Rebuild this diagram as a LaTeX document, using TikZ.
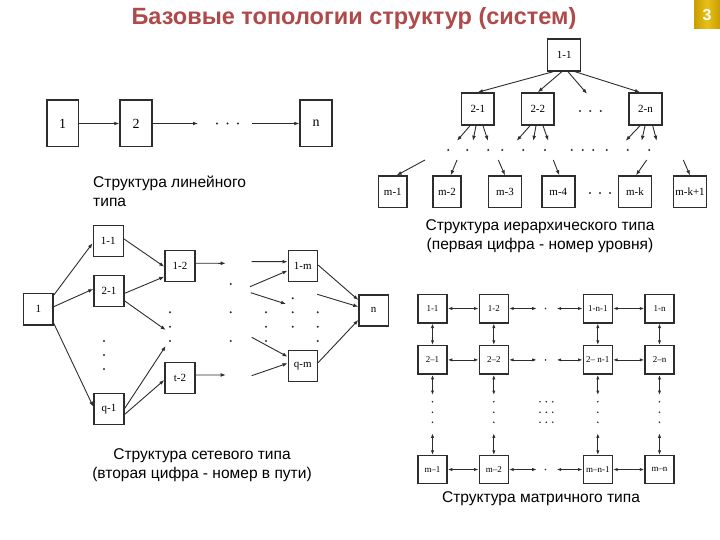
\documentclass[tikz,border=0pt]{standalone}
\usepackage{fontspec}
\setmainfont{Liberation Serif}
\newfontfamily\capfont{Liberation Sans}
\usetikzlibrary{arrows.meta}
\definecolor{titlered}{RGB}{176,74,74}
\definecolor{ln}{RGB}{45,45,45}
\definecolor{gold1}{RGB}{200,158,0}
\definecolor{gold2}{RGB}{232,192,24}
\begin{document}
\begin{tikzpicture}[x=1bp,y=-1bp,
  box/.style={draw=ln, line width=1.5bp, inner sep=0pt, fill=white},
  lbox/.style={box, minimum width=32bp, minimum height=46.5bp, font=\fontsize{14}{14}\selectfont},
  hbox/.style={box, minimum width=33bp, minimum height=32bp, font=\fontsize{11}{11}\selectfont},
  nbox/.style={box, minimum width=30bp, minimum height=31bp, font=\fontsize{11}{11}\selectfont},
  mbox/.style={box, minimum width=29bp, minimum height=28.5bp, font=\fontsize{9}{9}\selectfont},
  arr/.style={draw=ln, line width=0.9bp, -{Latex[length=5bp,width=3.8bp]}},
  darr/.style={draw=ln, line width=0.8bp, {Latex[length=4.5bp,width=3.2bp]}-{Latex[length=4.5bp,width=3.2bp]}},
  captxt/.style={font=\capfont\fontsize{15.6}{18.7}\selectfont, text=black, inner sep=0pt},
 ]
\useasboundingbox (0,0) rectangle (720,540);
\fill[white] (0,0) rectangle (720,540);

% title and badge
\node[font=\capfont\bfseries\fontsize{23.6}{26}\selectfont, text=titlered] (title) at (354,18) {Базовые топологии структур (систем)};
\shade[left color=gold1, right color=gold1, middle color=gold2] (694,1) rectangle (720,29);
\node[font=\capfont\bfseries\fontsize{16}{16}\selectfont, text=white] (badge) at (707,15) {3};

% ---------- linear ----------
\node[lbox, minimum width=31.5bp] (L1) at (62.5,123.5) {1};
\node[lbox] (L2) at (136,123.5) {2};
\node[lbox] (Ln) at (316,123.5) {n};
\coordinate (la) at (198,123.5);
\coordinate (lb) at (252,123.5);
\draw[arr] (L1) -- (L2);
\draw[arr] (L2) -- (la);
\draw[arr] (lb) -- (Ln);
\foreach \x in {217,227.5,238} \fill[ln] (\x,123.5) circle[radius=1.1bp];
\node[captxt, anchor=north west, align=left] (lincap) at (93,176) {Структура линейного\\типа};

% ---------- hierarchy ----------
\node[hbox] (H11) at (564.2,55) {1-1};
\node[hbox, minimum width=32.3bp] (H21) at (477.8,109) {2-1};
\node[hbox, minimum width=32.3bp] (H22) at (537.8,109) {2-2};
\node[hbox] (H2n) at (645.5,109) {2-n};
\foreach \x in {580,590.3,600.7} \fill[ln] (\x,111) circle[radius=1.1bp];
\draw[arr] ([xshift=-11.2bp]H11.south) -- (H21.north);
\draw[arr] ([xshift=-2.5bp]H11.south) -- (H22.north);
\draw[arr] ([xshift=3.8bp]H11.south) -- ++(19,22);
\draw[arr] ([xshift=11bp]H11.south) -- ([xshift=-5.5bp]H2n.north);
\draw[arr] ([xshift=-7.8bp]H21.south) -- ++(-13,15);
\draw[arr] ([xshift=-1.8bp]H21.south) -- ++(-3,15);
\draw[arr] ([xshift=5.2bp]H21.south) -- ++(5,15);
\draw[arr] ([xshift=-7.8bp]H22.south) -- ++(-13.3,15);
\draw[arr] ([xshift=-1.8bp]H22.south) -- ++(-2.7,15);
\draw[arr] ([xshift=5.2bp]H22.south) -- ++(5.3,15);
\draw[arr] ([xshift=-5.5bp]H2n.south) -- ++(-14.3,15);
\draw[arr] ([xshift=-0.5bp]H2n.south) -- ++(-3.3,15);
\draw[arr] ([xshift=7.2bp]H2n.south) -- ++(4,15);
\foreach \x in {448.3,467.3,488.3,502.3,523.3,545,571.7,582.7,593.3,606.7,627.7,649.3} \fill[ln] (\x,150) circle[radius=1.1bp];
\node[hbox, minimum width=28.5bp, minimum height=31.3bp] (M1) at (392.8,191.7) {m-1};
\node[hbox, minimum width=28bp, minimum height=31.3bp] (M2) at (447,191.7) {m-2};
\node[hbox, minimum height=31.3bp] (M3) at (505,191.7) {m-3};
\node[hbox, minimum height=31.3bp] (M4) at (558.3,191.7) {m-4};
\node[hbox, minimum height=31.3bp] (Mk) at (635,191.7) {m-k};
\node[hbox, minimum height=31.3bp] (Mk1) at (690,191.7) {m-k+1};
\foreach \x in {590,600,610} \fill[ln] (\x,193) circle[radius=1.1bp];
\coordinate (h1) at (425,160);
\coordinate (h2) at (457,160);
\coordinate (h3) at (498.3,160);
\coordinate (h4) at (553.3,160);
\coordinate (h5) at (646.7,160);
\coordinate (h6) at (683.3,160);
\draw[arr] (h1) -- ([xshift=3.9bp]M1.north);
\draw[arr] (h2) -- ([xshift=3.7bp]M2.north);
\draw[arr] (h3) -- (M3.north);
\draw[arr] (h4) -- ([xshift=1bp]M4.north);
\draw[arr] (h5) -- ([xshift=1bp]Mk.north);
\draw[arr] (h6) -- (Mk1.north);
\node[captxt, align=center] (hiercap) at (540,236) {Структура иерархического типа\\(первая цифра - номер уровня)};

% ---------- network ----------
\node[nbox, minimum width=29.3bp, minimum height=31.7bp] (N1) at (38.3,309.2) {1};
\node[nbox] (N11) at (108.3,241.2) {1-1};
\node[nbox] (N21) at (109,291.2) {2-1};
\node[nbox] (Nq1) at (109,408.8) {q-1};
\node[nbox] (N12) at (180,266.2) {1-2};
\node[nbox] (Nt2) at (180,377.8) {t-2};
\node[nbox, minimum width=29bp] (N1m) at (302.8,266.2) {1-m};
\node[nbox, minimum width=29bp] (Nqm) at (302.8,366.2) {q-m};
\node[nbox, minimum width=29.3bp] (Nn) at (373.7,310.3) {n};
\draw[arr] ([yshift=14bp]N1.east) -- ([yshift=-2bp]N11.west);
\draw[arr] ([yshift=2.5bp]N1.east) -- ([yshift=2.2bp]N21.west);
\draw[arr] ([yshift=-14bp]N1.east) -- ([yshift=2.1bp]Nq1.west);
\draw[arr] ([yshift=2.2bp]N11.east) -- ([yshift=-0.5bp]N12.west);
\draw[arr] ([yshift=-2.1bp]N21.east) -- ([yshift=-10.5bp]N12.west);
\coordinate (n1) at (165.7,330);
\coordinate (n2) at (165.7,346);
\draw[arr] ([yshift=-9.8bp]N21.east) -- (n1);
\draw[arr] ([yshift=0.5bp]Nq1.east) -- (n2);
\draw[arr] ([yshift=-5.5bp]Nq1.east) -- ([yshift=-2.2bp]Nt2.west);
\foreach \y in {312.3,326.7,341} \fill[ln] (170,\y) circle[radius=1.1bp];
\foreach \y in {341,355,369} \fill[ln] (104,\y) circle[radius=1.1bp];
\coordinate (n3) at (225.7,263.3);
\coordinate (n4) at (225.7,375);
\draw[arr] ([yshift=2.9bp]N12.east) -- (n3);
\draw[arr] ([yshift=2.8bp]Nt2.east) -- (n4);
\foreach \y in {284,312.3,341} \fill[ln] (230.7,\y) circle[radius=1.1bp];
\coordinate (n5) at (251.7,261.7);
\coordinate (n6) at (250,286.7);
\coordinate (n7) at (250.7,292.7);
\coordinate (n8) at (286,304);
\coordinate (n9) at (251.7,337.3);
\coordinate (n10) at (251.7,375.7);
\draw[arr] (n5) -- ([yshift=4.5bp]N1m.west);
\draw[arr] (n6) -- ([yshift=-4.5bp]N1m.west);
\draw[arr] (n7) -- (n8);
\draw[arr] (n9) -- ([yshift=9.5bp]Nqm.west);
\draw[arr] (n10) -- ([yshift=2.9bp]Nqm.west);
\foreach \y in {312.3,326.7,341} \fill[ln] (266,\y) circle[radius=1.1bp];
\foreach \y in {298.3,312.3,326.7} \fill[ln] (292.7,\y) circle[radius=1.1bp];
\foreach \y in {312.3,326.7,341} \fill[ln] (317.7,\y) circle[radius=1.1bp];
\coordinate (n11) at (317.3,294.3);
\draw[arr] ([yshift=1.2bp]N1m.east) -- ([yshift=10.3bp]Nn.west);
\draw[arr] (n11) -- ([yshift=3.6bp]Nn.west);
\draw[arr] ([yshift=3.5bp]Nqm.east) -- ([yshift=-9.7bp]Nn.west);
\node[captxt, align=center] (netcap) at (202,465) {Структура сетевого типа\\(вторая цифра - номер в пути)};

% ---------- matrix ----------
\node[mbox] (A11) at (432.5,308.5) {1-1};
\node[mbox] (A12) at (493.8,308.5) {1-2};
\node[mbox] (A13) at (597.8,308.5) {1-n-1};
\node[mbox] (A14) at (659.5,308.5) {1-n};
\node[mbox] (A21) at (432.5,359.9) {2–1};
\node[mbox] (A22) at (493.8,359.9) {2–2};
\node[mbox] (A23) at (597.8,359.9) {2– n-1};
\node[mbox] (A24) at (659.5,359.9) {2–n};
\node[mbox, minimum height=27.6bp] (Am1) at (432.5,469.5) {m–1};
\node[mbox, minimum height=27.6bp] (Am2) at (493.8,469.5) {m–2};
\node[mbox, minimum height=27.6bp] (Am3) at (597.8,469.5) {m–n-1};
\node[mbox, minimum height=27.6bp] (Am4) at (659.5,469.5) {m–n};
% horizontal
\foreach \r/\y in {1/308.5,2/359.9,m/469.5}{
  \coordinate (ha\r) at (536.7,\y);
  \coordinate (hb\r) at (556.7,\y);
  \fill[ln] (545.5,\y) circle[radius=0.9bp];
}
\draw[darr] (A11) -- (A12);
\draw[darr] (A12) -- (ha1);
\draw[darr] (hb1) -- (A13);
\draw[darr] (A13) -- (A14);
\draw[darr] (A21) -- (A22);
\draw[darr] (A22) -- (ha2);
\draw[darr] (hb2) -- (A23);
\draw[darr] (A23) -- (A24);
\draw[darr] (Am1) -- (Am2);
\draw[darr] (Am2) -- (ham);
\draw[darr] (hbm) -- (Am3);
\draw[darr] (Am3) -- (Am4);
% vertical
\foreach \c/\x in {1/432.5,2/493.8,3/597.8,4/659.5}{
  \coordinate (va\c) at (\x,395);
  \coordinate (vb\c) at (\x,433.3);
  \foreach \y in {401.7,412.3,422.3} \fill[ln] (\x,\y) circle[radius=0.9bp];
}
\draw[darr] (A11) -- (A21);
\draw[darr] (A12) -- (A22);
\draw[darr] (A13) -- (A23);
\draw[darr] (A14) -- (A24);
\draw[darr] (A21) -- (va1);
\draw[darr] (A22) -- (va2);
\draw[darr] (A23) -- (va3);
\draw[darr] (A24) -- (va4);
\draw[darr] (vb1) -- (Am1);
\draw[darr] (vb2) -- (Am2);
\draw[darr] (vb3) -- (Am3);
\draw[darr] (vb4) -- (Am4);
\foreach \y in {401.7,412.3,422.3}
  \foreach \x in {540,546.3,552.7} \fill[ln] (\x,\y) circle[radius=0.9bp];
\node[captxt, align=center] (matcap) at (541,499) {Структура матричного типа};
\end{tikzpicture}
\end{document}
